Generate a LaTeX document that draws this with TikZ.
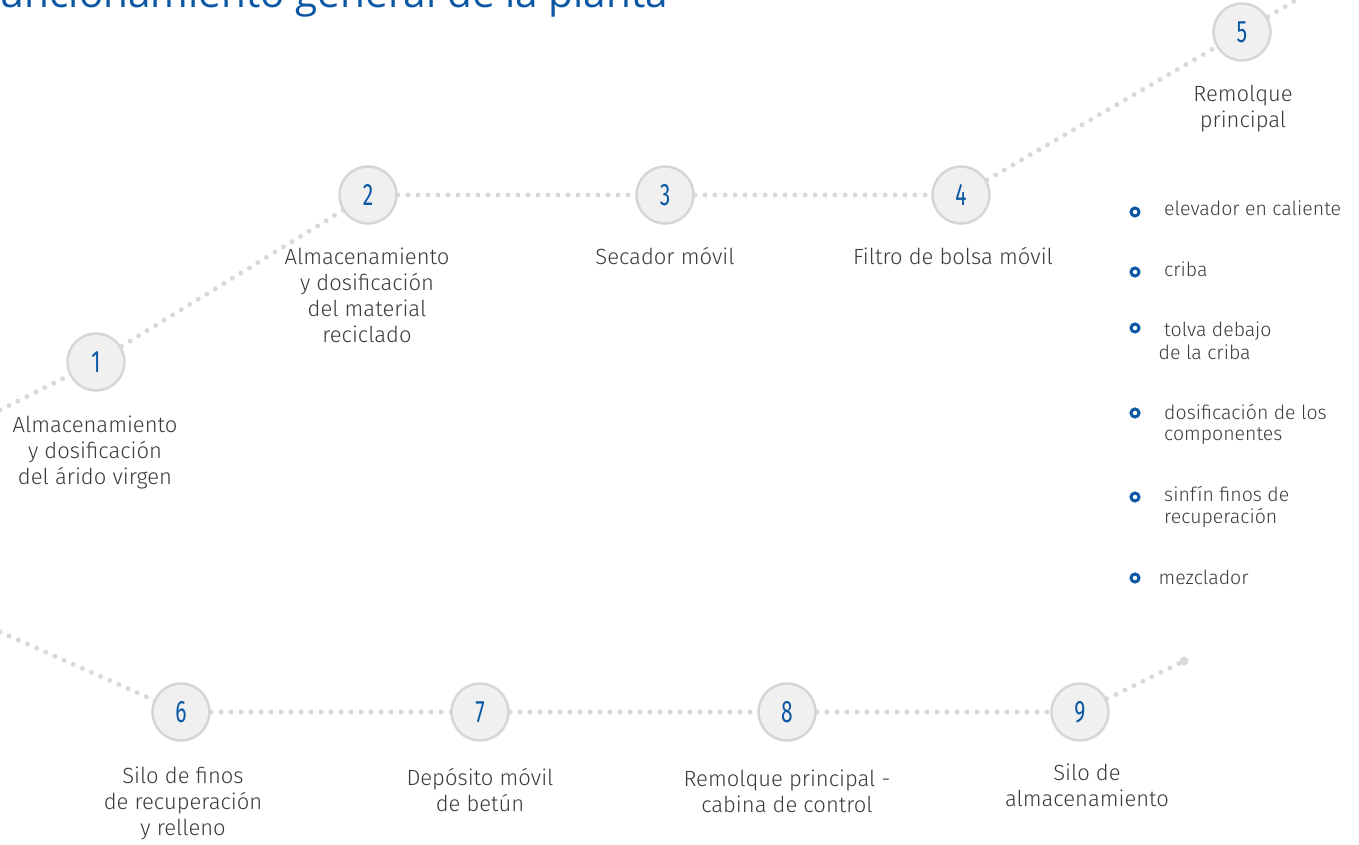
\documentclass[tikz,border=0pt]{standalone}
\usepackage{fontspec}
\IfFontExistsTF{Fira Sans Light}{\setmainfont{Fira Sans Light}}{\setmainfont{Fira Sans}}
\newfontfamily\titlefont{Open Sans}
\newfontfamily\numfont{Fira Sans}
\definecolor{dotgray}{HTML}{D9D9D9}
\definecolor{ringgray}{HTML}{D6D6D6}
\definecolor{fillgray}{HTML}{F0F0F0}
\definecolor{mainblue}{HTML}{0B57A4}
\definecolor{txt}{HTML}{3A3A3A}
\tikzset{
  stepnode/.style={circle, draw=ringgray, fill=fillgray, line width=2.5pt, minimum size=57pt, inner sep=0pt, text=mainblue, font=\numfont\fontsize{31}{31}\selectfont},
  dots/.style={draw=dotgray, line width=5pt, line cap=round, dash pattern=on 0pt off 10pt},
  lbl/.style={align=center, anchor=base, inner sep=0pt, text=txt, font=\fontsize{22}{26}\selectfont},
  btxt/.style={anchor=base west, inner sep=0pt, text=txt, font=\fontsize{19.5}{22}\selectfont},
  bullet/.style={circle, draw=mainblue, line width=3pt, minimum size=8pt, inner sep=0pt},
}
\newcommand{\nmb}[1]{\scalebox{0.68}[1]{#1}}
\begin{document}
\begin{tikzpicture}[x=1pt,y=-1pt]
\useasboundingbox (0,0) rectangle (1359,845);
\begin{scope}
\clip (0,0) rectangle (1359,845);
% title
\node[anchor=base east, inner sep=0pt, text=mainblue, font=\titlefont\fontsize{40.5}{40}\selectfont] (title) at (668,8) {Funcionamiento general de la planta};
% free ends
\coordinate (s1) at (0,410);
\coordinate (s5) at (1330,-20);
\coordinate (s6) at (0,632);
\coordinate (e9) at (1184,661);
% dotted connectors
\draw[dots] (s1) -- (96,362);
\draw[dots] (96,362) -- (368,195);
\draw[dots] (368,195) -- (665,195);
\draw[dots] (665,195) -- (961,195);
\draw[dots] (961,195) -- (1242,32);
\draw[dots] (1242,32) -- (s5);
\draw[dots] (s6) -- (181,712);
\draw[dots] (181,712) -- (480,712);
\draw[dots] (480,712) -- (787,712);
\draw[dots] (787,712) -- (1080,712);
\draw[dots] (1080,712) -- (e9);
\fill[dotgray] (e9) circle (4.5);
% step circles
\node[stepnode] (n1) at (96,362) {\nmb{1}};
\node[stepnode] (n2) at (368,195) {\nmb{2}};
\node[stepnode] (n3) at (665,195) {\nmb{3}};
\node[stepnode] (n4) at (961,195) {\nmb{4}};
\node[stepnode] (n5) at (1242,32) {\nmb{5}};
\node[stepnode] (n6) at (181,712) {\nmb{6}};
\node[stepnode] (n7) at (480,712) {\nmb{7}};
\node[stepnode] (n8) at (787,712) {\nmb{8}};
\node[stepnode] (n9) at (1080,712) {\nmb{9}};
% labels (anchor base = baseline of last line)
\node[lbl] (l1) at (95,484) {Almacenamiento\\y dosificación\\del árido virgen};
\node[lbl] (l2) at (367,342) {Almacenamiento\\y dosificación\\del material\\reciclado};
\node[lbl] (l3) at (665,264) {Secador móvil};
\node[lbl] (l4) at (953,264) {Filtro de bolsa móvil};
\node[lbl] (l5) at (1243,128) {Remolque\\principal};
\node[lbl] (l6) at (183,835) {Silo de finos\\de recuperación\\y relleno};
\node[lbl] (l7) at (480,811) {Depósito móvil\\de betún};
\node[lbl] (l8) at (787,812) {Remolque principal -\\cabina de control};
\node[lbl] (l9) at (1087,806) {Silo de\\almacenamiento};
% bullet list
\node[bullet] (b1) at (1135,212) {};
\node[bullet] (b2) at (1135,272) {};
\node[bullet] (b3) at (1135,328) {};
\node[bullet] (b4) at (1135,413) {};
\node[bullet] (b5) at (1135,497) {};
\node[bullet] (b6) at (1135,578) {};
\node[btxt] (t1) at (1164,215.5) {elevador en caliente};
\node[btxt] (t2) at (1164,276) {criba};
\node[btxt] (t3a) at (1164,336) {tolva debajo};
\node[btxt] (t3b) at (1158.5,359) {de la criba};
\node[btxt] (t4a) at (1164,419) {dosificación de los};
\node[btxt] (t4b) at (1164,440) {componentes};
\node[btxt] (t5a) at (1164,501.5) {sinfín finos de};
\node[btxt] (t5b) at (1164,523) {recuperación};
\node[btxt] (t6) at (1158.5,584) {mezclador};
\end{scope}
\end{tikzpicture}
\end{document}
